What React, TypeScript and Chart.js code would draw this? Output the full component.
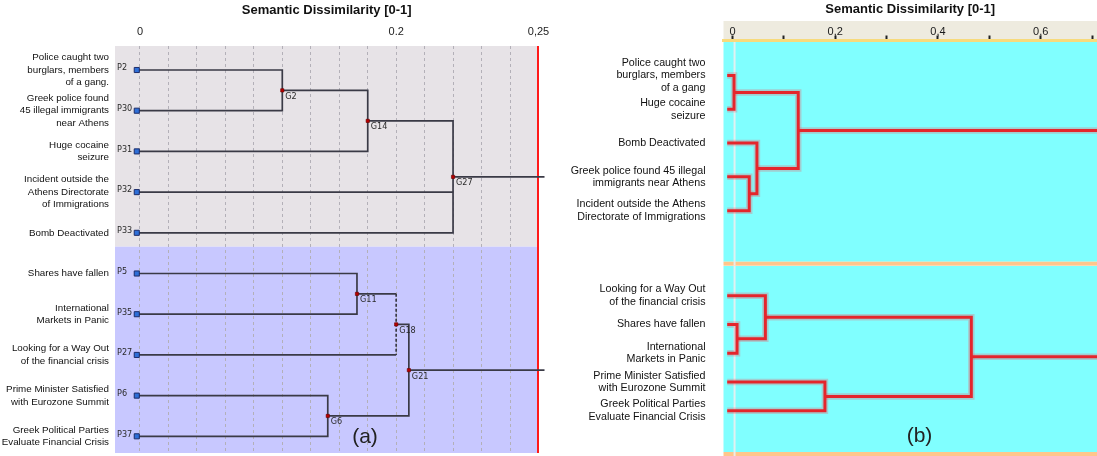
import React, { useEffect, useRef } from "react";
import { Chart, registerables } from "chart.js";

Chart.register(...registerables);

const SANS = "'Liberation Sans', Arial, Helvetica, sans-serif";
const NARROW = "'Liberation Sans Narrow', 'DejaVu Sans Condensed', 'Liberation Sans', sans-serif";

const axisTitle = "Semantic Dissimilarity [0-1]";

// ---------- Panel (a) ----------
const leftLeafIds = ["P2", "P30", "P31", "P32", "P33", "P5", "P35", "P27", "P6", "P37"];
const leftLeafLabels = [
  ["Police caught two", "burglars, members", "of a gang."],
  ["Greek police found", "45 illegal immigrants", "near Athens"],
  ["Huge cocaine", "seizure"],
  ["Incident outside the", "Athens Directorate", "of Immigrations"],
  ["Bomb Deactivated"],
  ["Shares have fallen"],
  ["International", "Markets in Panic"],
  ["Looking for a Way Out", "of the financial crisis"],
  ["Prime Minister Satisfied", "with Eurozone Summit"],
  ["Greek Political Parties", "Evaluate Financial Crisis"],
];
const leftNodeIds = ["G2", "G14", "G27", "G11", "G18", "G6", "G21"];
const leftNodeHeights = [0.1111, 0.1778, 0.2444, 0.1694, 0.2, 0.1466, 0.2099];
const leftNodeChildren = [
  ["P2", "P30"],
  ["G2", "P31"],
  ["G14", "P32", "P33"],
  ["P5", "P35"],
  ["G11", "P27"],
  ["P6", "P37"],
  ["G18", "G6"],
];
const leftDashedNodes = ["G18"];
const leftLeafStart = -0.0025;
const leftRootEnd = 0.3158;
const leftGridStep = 0.2 / 9;
const leftGridCount = 14;
const leftTickSteps = [0, 9, 14];
const leftTickLabels = ["0", "0.2", "0,25"];

// ---------- Panel (b) ----------
const rightTopLeafIds = ["P2", "P31", "P33", "P30", "P32"];
const rightTopLeafLabels = [
  ["Police caught two", "burglars, members", "of a gang"],
  ["Huge cocaine", "seizure"],
  ["Bomb Deactivated"],
  ["Greek police found 45 illegal", "immigrants near Athens"],
  ["Incident outside the Athens", "Directorate of Immigrations"],
];
const rightTopNodeIds = ["T1", "T2", "T3", "T4"];
const rightTopNodeHeights = [0.003, 0.0326, 0.0476, 0.128];
const rightTopNodeChildren = [
  ["P2", "P31"],
  ["P30", "P32"],
  ["P33", "T2"],
  ["T1", "T3"],
];

const rightBottomLeafIds = ["P27", "P5", "P35", "P6", "P37"];
const rightBottomLeafLabels = [
  ["Looking for a Way Out", "of the financial crisis"],
  ["Shares have fallen"],
  ["International", "Markets in Panic"],
  ["Prime Minister Satisfied", "with Eurozone Summit"],
  ["Greek Political Parties", "Evaluate Financial Crisis"],
];
const rightBottomNodeIds = ["B1", "B2", "B3", "B4"];
const rightBottomNodeHeights = [0.0089, 0.064, 0.18, 0.465];
const rightBottomNodeChildren = [
  ["P5", "P35"],
  ["P27", "B1"],
  ["P6", "P37"],
  ["B2", "B3"],
];
const rightLeafStart = -0.0103;
const rightRootEnd = 0.7097;
const rightCutValue = 0.004;
const rightTickValues = [0, 0.1, 0.2, 0.3, 0.4, 0.5, 0.6, 0.7];
const rightTickLabels = ["0", "", "0,2", "", "0,4", "", "0,6", ""];

// ---------- tree helpers ----------
type Pt = { x: number; y: number };

function layoutTree(
  leafIds: string[],
  nodeIds: string[],
  heights: number[],
  children: string[][],
  leafStart: number
): Record<string, Pt> {
  const pos: Record<string, Pt> = {};
  leafIds.forEach((id, i) => (pos[id] = { x: leafStart, y: i }));
  nodeIds.forEach((id, k) => {
    const ys = children[k].map((c) => pos[c].y);
    pos[id] = { x: heights[k], y: (Math.min(...ys) + Math.max(...ys)) / 2 };
  });
  return pos;
}

function treeLinks(pos: Record<string, Pt>, nodeIds: string[], children: string[][], dashedIds: string[]) {
  const solid: Pt[][] = [];
  const dashed: Pt[][] = [];
  nodeIds.forEach((id, k) => {
    const h = pos[id].x;
    const kids = children[k].map((c) => pos[c]).sort((a, b) => a.y - b.y);
    const first = kids[0];
    const last = kids[kids.length - 1];
    if (dashedIds.includes(id)) {
      kids.forEach((c) => solid.push([{ x: c.x, y: c.y }, { x: h, y: c.y }]));
      dashed.push([{ x: h, y: first.y }, { x: h, y: last.y }]);
    } else {
      solid.push([
        { x: first.x, y: first.y },
        { x: h, y: first.y },
        { x: h, y: last.y },
        { x: last.x, y: last.y },
      ]);
      kids.slice(1, -1).forEach((c) => solid.push([{ x: c.x, y: c.y }, { x: h, y: c.y }]));
    }
  });
  return { solid, dashed };
}

function rootTails(pos: Record<string, Pt>, nodeIds: string[], children: string[][], end: number): Pt[][] {
  const used = new Set(children.flat());
  return nodeIds
    .filter((id) => !used.has(id))
    .map((id) => [
      { x: pos[id].x, y: pos[id].y },
      { x: end, y: pos[id].y },
    ]);
}

// ---------- chart configs ----------
function leftConfig(): any {
  const pos = layoutTree(leftLeafIds, leftNodeIds, leftNodeHeights, leftNodeChildren, leftLeafStart);
  const { solid, dashed } = treeLinks(pos, leftNodeIds, leftNodeChildren, leftDashedNodes);
  const tails = rootTails(pos, leftNodeIds, leftNodeChildren, leftRootEnd);
  const lineBase = {
    showLine: true,
    pointRadius: 0,
    pointHoverRadius: 0,
    borderColor: "#3a3a46",
    borderWidth: 1.7,
    order: 1,
  };
  const datasets: any[] = [
    {
      data: leftLeafIds.map((id) => pos[id]),
      pointStyle: "rect",
      pointRadius: 3.6,
      backgroundColor: "#2e6fd8",
      borderColor: "#1d2c68",
      borderWidth: 1,
      order: 0,
    },
    {
      data: leftNodeIds.map((id) => pos[id]),
      pointStyle: "rect",
      pointRadius: 2.3,
      backgroundColor: "#b80000",
      borderColor: "#6a0000",
      borderWidth: 0.6,
      order: 0,
    },
    ...solid.map((d) => ({ ...lineBase, data: d })),
    ...dashed.map((d) => ({ ...lineBase, data: d, borderDash: [3, 2] })),
    ...tails.map((d) => ({ ...lineBase, data: d, clip: false })),
  ];
  const groupSplit = 4.34;
  const decor = {
    id: "leftDecor",
    beforeDraw(chart: any) {
      const { ctx, chartArea: a, scales } = chart;
      const split = scales.y.getPixelForValue(groupSplit);
      ctx.save();
      ctx.fillStyle = "#e7e3e7";
      ctx.fillRect(a.left, a.top, a.right - a.left, split - a.top);
      ctx.fillStyle = "#c8c8ff";
      ctx.fillRect(a.left, split, a.right - a.left, a.bottom - split);
      ctx.restore();
    },
    beforeDatasetsDraw(chart: any) {
      const { ctx, chartArea: a } = chart;
      ctx.save();
      ctx.strokeStyle = "#ff1a1a";
      ctx.lineWidth = 2;
      ctx.beginPath();
      ctx.moveTo(a.right - 0.5, a.top);
      ctx.lineTo(a.right - 0.5, a.bottom);
      ctx.stroke();
      ctx.restore();
    },
    afterDatasetsDraw(chart: any) {
      const { ctx, chartArea: a, scales } = chart;
      const { x, y } = scales;
      ctx.save();
      ctx.font = `9px ${NARROW}`;
      ctx.fillStyle = "#2a2a2a";
      ctx.textBaseline = "middle";
      ctx.textAlign = "left";
      leftLeafIds.forEach((id) => {
        ctx.fillText(id, a.left + 2, y.getPixelForValue(pos[id].y) - 2);
      });
      leftNodeIds.forEach((id) => {
        ctx.fillText(id, x.getPixelForValue(pos[id].x) + 3, y.getPixelForValue(pos[id].y) + 6);
      });
      ctx.font = `21px ${SANS}`;
      ctx.textAlign = "center";
      ctx.fillStyle = "#222";
      ctx.fillText("(a)", a.left + 250, a.bottom - 16);
      ctx.restore();
    },
  };
  return {
    type: "scatter",
    data: { datasets },
    plugins: [decor],
    options: {
      animation: false,
      responsive: false,
      events: [],
      layout: { autoPadding: false, padding: { left: 0, top: 0, right: 21.5, bottom: 3 } },
      plugins: { legend: { display: false }, tooltip: { enabled: false } },
      scales: {
        x: {
          type: "linear",
          position: "top",
          min: -0.0195,
          max: leftGridStep * leftGridCount,
          afterBuildTicks: (s: any) => {
            s.ticks = Array.from({ length: leftGridCount + 1 }, (_, k) => ({ value: k * leftGridStep }));
          },
          afterFit: (s: any) => {
            s.height = 46;
            s.paddingLeft = 0;
            s.paddingRight = 0;
          },
          ticks: {
            autoSkip: false,
            maxRotation: 0,
            padding: 9,
            color: "#222",
            font: { family: SANS, size: 11, lineHeight: 1 },
            callback: (_v: any, i: number) => {
              const j = leftTickSteps.indexOf(i);
              return j >= 0 ? leftTickLabels[j] : "";
            },
          },
          grid: { drawTicks: false, color: "#b3b0b8", lineWidth: 1 },
          border: { display: false, dash: [3, 3] },
          title: {
            display: true,
            text: axisTitle,
            color: "#111",
            font: { family: SANS, size: 13, weight: "bold" },
            padding: { top: 3, bottom: 0 },
          },
        },
        y: {
          type: "linear",
          reverse: true,
          min: -0.59,
          max: 9.41,
          afterBuildTicks: (s: any) => {
            s.ticks = leftLeafIds.map((_, i) => ({ value: i }));
          },
          afterFit: (s: any) => {
            s.width = 115;
            s.paddingTop = 0;
            s.paddingBottom = 0;
          },
          ticks: {
            autoSkip: false,
            padding: 6,
            color: "#111",
            font: { family: SANS, size: 9.8, lineHeight: 1.27 },
            callback: (v: any) => leftLeafLabels[Math.round(v)],
          },
          grid: { display: false, drawTicks: false },
          border: { display: false },
        },
      },
    },
  };
}

function rightConfig(
  leafIds: string[],
  leafLabels: string[][],
  nodeIds: string[],
  heights: number[],
  children: string[][],
  withAxis: boolean,
  yMin: number,
  yMax: number,
  padding: any,
  panelLabel: string | null
): any {
  const pos = layoutTree(leafIds, nodeIds, heights, children, rightLeafStart);
  const { solid } = treeLinks(pos, nodeIds, children, []);
  const tails = rootTails(pos, nodeIds, children, rightRootEnd);
  const paths = [...solid, ...tails];
  const datasets: any[] = [
    ...paths.map((d) => ({
      data: d,
      showLine: true,
      pointRadius: 0,
      borderColor: "#e4262c",
      borderWidth: 3,
      borderJoinStyle: "miter",
      order: 1,
    })),
    ...paths.map((d) => ({
      data: d,
      showLine: true,
      pointRadius: 0,
      borderColor: "rgba(240,90,100,0.30)",
      borderWidth: 6.5,
      borderJoinStyle: "miter",
      order: 2,
    })),
  ];
  const decor = {
    id: "rightDecor",
    beforeDraw(chart: any) {
      const { ctx, chartArea: a, scales } = chart;
      ctx.save();
      if (withAxis) {
        ctx.fillStyle = "#eeebdf";
        ctx.fillRect(a.left, a.top - 19, a.right - a.left, 19);
      }
      ctx.fillStyle = "#80ffff";
      ctx.fillRect(a.left, a.top, a.right - a.left, a.bottom - a.top);
      ctx.fillStyle = "#ffc68c";
      ctx.fillRect(a.left, a.bottom, a.right - a.left, 4);
      const cx = scales.x.getPixelForValue(rightCutValue);
      ctx.strokeStyle = "rgba(236,240,240,0.9)";
      ctx.lineWidth = 2;
      ctx.beginPath();
      ctx.moveTo(cx, a.top);
      ctx.lineTo(cx, a.bottom + 4);
      ctx.stroke();
      ctx.restore();
    },
    afterDatasetsDraw(chart: any) {
      if (!panelLabel) return;
      const { ctx, chartArea: a } = chart;
      ctx.save();
      ctx.font = `21px ${SANS}`;
      ctx.textAlign = "center";
      ctx.textBaseline = "middle";
      ctx.fillStyle = "#222";
      ctx.fillText(panelLabel, a.left + 196, a.bottom - 16);
      ctx.restore();
    },
  };
  return {
    type: "scatter",
    data: { datasets },
    plugins: [decor],
    options: {
      animation: false,
      responsive: false,
      events: [],
      layout: { autoPadding: false, padding },
      plugins: { legend: { display: false }, tooltip: { enabled: false } },
      scales: {
        x: {
          type: "linear",
          position: "top",
          display: withAxis,
          min: -0.0175,
          max: rightRootEnd,
          afterBuildTicks: (s: any) => {
            s.ticks = rightTickValues.map((v) => ({ value: v }));
          },
          afterFit: (s: any) => {
            s.height = withAxis ? 40 : 0;
            s.paddingLeft = 0;
            s.paddingRight = 0;
          },
          ticks: {
            autoSkip: false,
            maxRotation: 0,
            padding: -1.5,
            color: "#1a1a1a",
            font: { family: SANS, size: 11, lineHeight: 1 },
            callback: (_v: any, i: number) => rightTickLabels[i],
          },
          grid: { drawOnChartArea: false, drawTicks: true, tickLength: 4.5, tickWidth: 2, tickColor: "#222" },
          border: { display: true, color: "#f7da7c", width: 3 },
          title: {
            display: true,
            text: axisTitle,
            color: "#111",
            font: { family: SANS, size: 13, weight: "bold" },
            padding: { top: 2, bottom: 0 },
          },
        },
        y: {
          type: "linear",
          reverse: true,
          min: yMin,
          max: yMax,
          afterBuildTicks: (s: any) => {
            s.ticks = leafIds.map((_, i) => ({ value: i }));
          },
          afterFit: (s: any) => {
            s.width = 163.5;
            s.paddingTop = 0;
            s.paddingBottom = 0;
          },
          ticks: {
            autoSkip: false,
            padding: 18,
            color: "#111",
            font: { family: SANS, size: 10.7, lineHeight: 1.18 },
            callback: (v: any) => leafLabels[Math.round(v)],
          },
          grid: { display: false, drawTicks: false },
          border: { display: false },
        },
      },
    },
  };
}

function ChartBox({ make, left, top, width, height }: any) {
  const ref = useRef<HTMLCanvasElement>(null);
  useEffect(() => {
    const chart = new Chart(ref.current as HTMLCanvasElement, make());
    return () => chart.destroy();
  }, []);
  return (
    <canvas
      ref={ref}
      width={width}
      height={height}
      style={{ position: "absolute", left, top, width, height, display: "block" }}
    />
  );
}

export default function App() {
  return (
    <div
      style={{
        position: "absolute",
        left: 0,
        top: 0,
        width: 1097,
        height: 456,
        background: "#ffffff",
        overflow: "hidden",
      }}
    >
      <ChartBox make={leftConfig} left={0} top={0} width={560} height={456} />
      <ChartBox
        make={() =>
          rightConfig(
            rightTopLeafIds,
            rightTopLeafLabels,
            rightTopNodeIds,
            rightTopNodeHeights,
            rightTopNodeChildren,
            true,
            -1.05,
            5.51,
            { left: 0, top: 0, right: 0, bottom: 4.3 },
            null
          )
        }
        left={560}
        top={0}
        width={537}
        height={266}
      />
      <ChartBox
        make={() =>
          rightConfig(
            rightBottomLeafIds,
            rightBottomLeafLabels,
            rightBottomNodeIds,
            rightBottomNodeHeights,
            rightBottomNodeChildren,
            false,
            -1.03,
            5.43,
            { left: 0, top: 0, right: 0, bottom: 4 },
            "(b)"
          )
        }
        left={560}
        top={266}
        width={537}
        height={190}
      />
    </div>
  );
}
